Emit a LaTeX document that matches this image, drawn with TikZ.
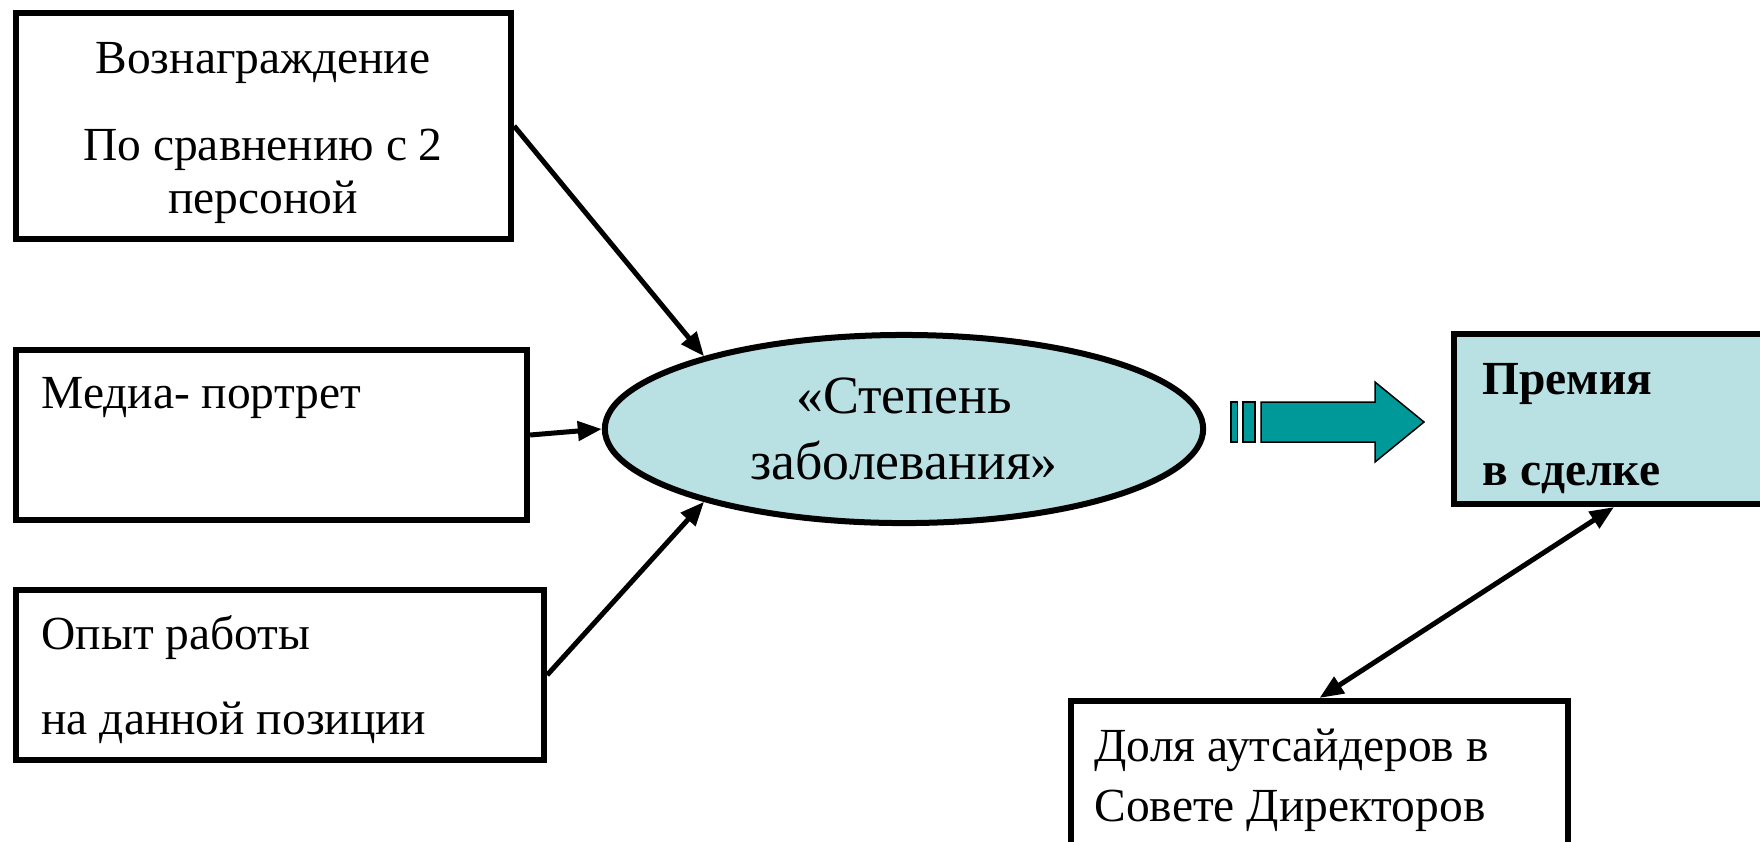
\documentclass[tikz,border=0pt]{standalone}
\usepackage{fontspec}
\setmainfont{Liberation Serif}
\usepackage{tikz}
\usetikzlibrary{arrows.meta,shapes.geometric,positioning}

\definecolor{paleblue}{RGB}{185,224,227}
\definecolor{deepteal}{RGB}{0,153,153}

\begin{document}
\begin{tikzpicture}[x=0.01cm, y=-0.01cm, >={Triangle[length=0.24cm,width=0.19cm]}, line width=0.05cm]

        \tikzstyle{box}=[draw=black, line width=0.06cm, inner sep=0pt]
        \tikzstyle{txt}=[font=\fontsize{13.5}{17.6}\selectfont, inner sep=0pt]

        \clip (0,0) rectangle (1760,841);

        % left factors
        \node[box, minimum width=4.95cm, minimum height=2.26cm] (reward)     at (263.5,126) {};
        \node[box, minimum width=5.11cm, minimum height=1.70cm] (media)      at (271.5,435) {};
        \node[box, minimum width=5.28cm, minimum height=1.70cm] (experience) at (280,675)   {};

        \node[txt, anchor=base] (rewardA) at (263,73)  {Вознаграждение};
        \node[txt, anchor=base] (rewardB) at (263,160) {По сравнению с 2};
        \node[txt, anchor=base] (rewardC) at (263,213) {персоной};
        \node[txt, anchor=base west] (mediaA)      at (39,408) {Медиа- портрет};
        \node[txt, anchor=base west] (experienceA) at (39,649) {Опыт работы};
        \node[txt, anchor=base west] (experienceB) at (39,734) {на данной позиции};

        % centre
        \node[ellipse, draw=black, fill=paleblue, line width=0.06cm, inner sep=0pt,
              minimum width=5.98cm, minimum height=1.88cm, align=center,
              font=\fontsize{15.3}{19}\selectfont]
              (degree) at (904,429) {«Степень\\заболевания»};

        % right side
        \node[box, fill=paleblue, minimum width=3.36cm, minimum height=1.70cm] (premium) at (1622,419)    {};
        \node[box, minimum width=4.97cm, minimum height=1.79cm]                (share)   at (1319.5,790.5) {};

        \node[txt, anchor=base west, font=\fontsize{13.5}{17.6}\selectfont\bfseries] (premiumA) at (1480,394) {Премия};
        \node[txt, anchor=base west, font=\fontsize{13.5}{17.6}\selectfont\bfseries] (premiumB) at (1480,485) {в сделке};
        \node[txt, anchor=base west] (shareA) at (1092,761) {Доля аутсайдеров в};
        \node[txt, anchor=base west] (shareB) at (1092,821) {Совете Директоров};

        % block arrow
        \draw[fill=deepteal, line width=0.015cm] (1231,402) rectangle (1237.5,442);
        \draw[fill=deepteal, line width=0.015cm] (1243,402) rectangle (1255,442);
        \draw[fill=deepteal, line width=0.015cm]
              (1261,402) -- (1375,402) -- (1375,382) -- (1424,422) -- (1375,462) -- (1375,442) -- (1261,442) -- cycle;

        \path[->]
        (reward.east)     edge (degree.160)
        (media.east)      edge (degree.west)
        (experience.east) edge (degree.200)
        ;
        \draw[<->] ([xshift=-0.08cm]premium.south) -- (share.north);

\end{tikzpicture}
\end{document}
